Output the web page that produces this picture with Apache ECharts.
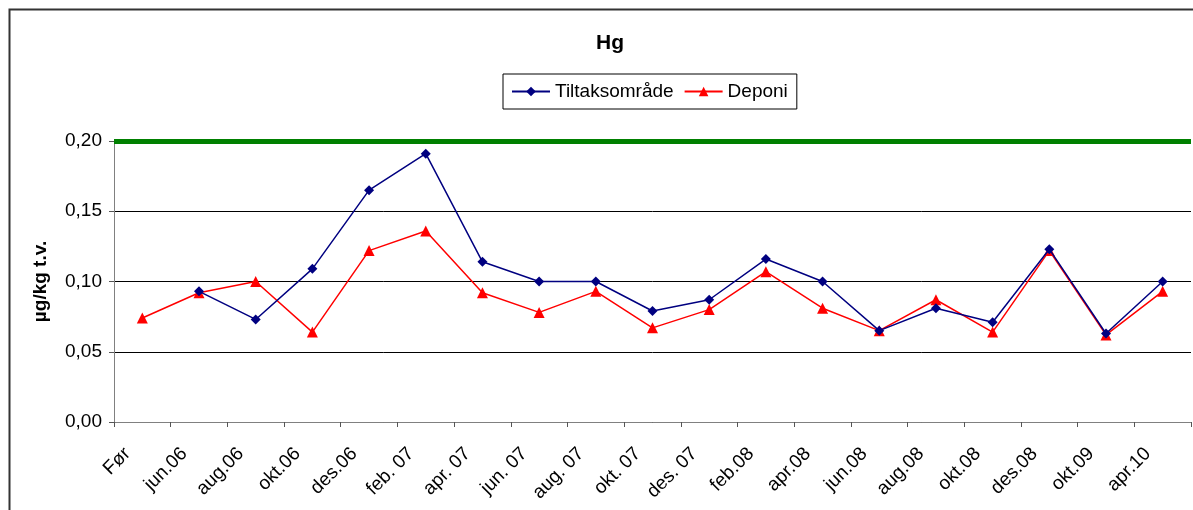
<!DOCTYPE html>
<html>
<head>
<meta charset="utf-8">
<script src="https://cdn.jsdelivr.net/npm/echarts@6/dist/echarts.min.js"></script>
<style>
  html, body { margin: 0; padding: 0; background: #fff; }
  #chart { width: 1193px; height: 510px; }
</style>
</head>
<body>
<div id="chart"></div>
<script>
// kategorier og måleverdier (Hg, µg/kg t.v.)
const categories = ['Før', 'jun.06', 'aug.06', 'okt.06', 'des.06', 'feb. 07', 'apr. 07', 'jun. 07', 'aug. 07',
  'okt. 07', 'des. 07', 'feb.08', 'apr.08', 'jun.08', 'aug.08', 'okt.08', 'des.08', 'okt.09', 'apr.10'];
const tiltaksomrade = [null, 0.093, 0.073, 0.109, 0.165, 0.191, 0.114, 0.100, 0.100,
  0.079, 0.087, 0.116, 0.100, 0.065, 0.081, 0.071, 0.123, 0.063, 0.100];
const deponi = [0.074, 0.092, 0.100, 0.064, 0.122, 0.136, 0.092, 0.078, 0.093,
  0.067, 0.080, 0.107, 0.081, 0.065, 0.087, 0.064, 0.122, 0.062, 0.093];
const grense = 0.20;

const font = 'Liberation Sans, Arial, sans-serif';
const chart = echarts.init(document.getElementById('chart'));

chart.setOption({
  animation: false,
  backgroundColor: '#fff',
  textStyle: { fontFamily: font },
  // ytre ramme rundt diagrammet
  graphic: [{
    type: 'rect',
    shape: { x: 9.5, y: 9.5, width: 1400, height: 700 },
    style: { fill: 'none', stroke: '#333', lineWidth: 2 },
    silent: true
  }],
  title: {
    text: 'Hg',
    left: 591,
    top: 28,
    textStyle: { fontFamily: font, fontSize: 21, fontWeight: 'bold', color: '#000' }
  },
  legend: {
    left: 503,
    top: 74,
    padding: [8, 9, 8, 8],
    borderColor: '#000',
    borderWidth: 1,
    itemWidth: 38,
    itemHeight: 12,
    itemGap: 10,
    textStyle: { fontFamily: font, fontSize: 19, color: '#000' },
    data: ['Tiltaksområde', 'Deponi']
  },
  grid: { left: 114, right: 2, top: 141, bottom: 88, containLabel: false },
  xAxis: {
    type: 'category',
    data: categories,
    boundaryGap: true,
    axisLine: { lineStyle: { color: '#808080', width: 1 } },
    axisTick: { show: true, interval: 0, length: 5, lineStyle: { color: '#555' } },
    axisLabel: {
      interval: 0, rotate: 45, margin: 14, padding: [0, 21, 0, 0],
      fontFamily: font, fontSize: 19, color: '#000'
    }
  },
  yAxis: {
    type: 'value',
    min: 0,
    max: 0.2,
    interval: 0.05,
    name: 'µg/kg t.v.',
    nameLocation: 'middle',
    nameGap: 64,
    nameTextStyle: { fontFamily: font, fontSize: 19, fontWeight: 'bold', color: '#000' },
    axisLine: { show: true, lineStyle: { color: '#808080', width: 1 } },
    axisTick: { show: true, length: 5, lineStyle: { color: '#555' } },
    axisLabel: {
      margin: 12, fontFamily: font, fontSize: 19, color: '#000',
      formatter: v => v.toFixed(2).replace('.', ',')
    },
    splitLine: { show: true, lineStyle: { color: '#000', width: 1 } }
  },
  series: [
    {
      name: 'Tiltaksområde',
      type: 'line',
      data: tiltaksomrade,
      color: '#000080',
      symbol: 'diamond',
      symbolSize: 10,
      lineStyle: { width: 1.5, color: '#000080' },
      itemStyle: { color: '#000080' },
      markLine: {
        silent: true,
        symbol: 'none',
        label: { show: false },
        lineStyle: { color: '#008000', width: 5, type: 'solid' },
        data: [{ yAxis: grense }]
      },
      z: 3
    },
    {
      name: 'Deponi',
      type: 'line',
      data: deponi,
      color: '#ff0000',
      symbol: 'triangle',
      symbolSize: 11,
      lineStyle: { width: 1.5, color: '#ff0000' },
      itemStyle: { color: '#ff0000' },
      z: 2
    }
  ]
});
</script>
</body>
</html>
